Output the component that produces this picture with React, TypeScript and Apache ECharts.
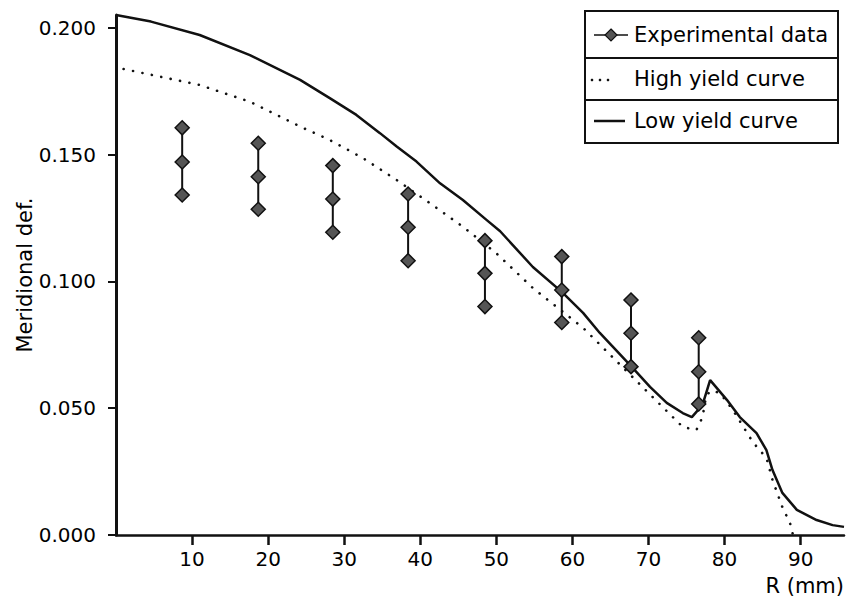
import React, { useEffect, useRef } from "react";
import * as echarts from "echarts";

const xTicks = [10, 20, 30, 40, 50, 60, 70, 80, 90];
const yTicks = [0, 0.05, 0.1, 0.15, 0.2];

const expX = [8.7, 18.7, 28.5, 38.4, 48.5, 58.6, 67.7, 76.6];
const expTop = [0.1606, 0.1545, 0.1457, 0.1345, 0.1161, 0.1098, 0.0927, 0.0778];
const expMid = [0.1471, 0.1413, 0.1325, 0.1214, 0.1032, 0.0966, 0.0796, 0.0644];
const expBot = [0.1341, 0.1285, 0.1194, 0.1082, 0.0901, 0.0838, 0.0664, 0.0517];

const highX = [1.0, 11.0, 17.6, 24.2, 28.1, 32.5, 36.9, 41.3, 45.6, 50.0, 54.8, 61.4, 67.9, 74.5, 76.3, 77.1, 77.6, 78.3, 79.4, 81.1, 83.7, 85.5, 86.3, 87.6, 88.6, 89.0];
const highY = [0.1838, 0.1775, 0.1709, 0.1611, 0.1558, 0.1486, 0.14, 0.1308, 0.1216, 0.1111, 0.0974, 0.0817, 0.0623, 0.0426, 0.0414, 0.0465, 0.0552, 0.057, 0.056, 0.0493, 0.0367, 0.0304, 0.0217, 0.011, 0.0047, 0.0];

const lowX = [0, 4.6, 11.0, 17.6, 24.2, 28.1, 31.6, 34.7, 36.9, 39.5, 42.6, 45.6, 48.7, 50.5, 54.8, 58.6, 61.4, 63.6, 67.8, 70.2, 72.4, 74.5, 75.7, 77.1, 78.1, 80.3, 82.0, 84.2, 85.5, 86.3, 87.6, 89.5, 92.1, 94.2, 95.7];
const lowY = [0.2051, 0.2025, 0.1972, 0.1893, 0.1795, 0.1723, 0.1657, 0.1585, 0.1532, 0.1473, 0.1387, 0.1321, 0.1243, 0.1198, 0.1057, 0.0959, 0.0876, 0.0797, 0.0663, 0.0584, 0.0521, 0.0481, 0.0465, 0.0513, 0.0611, 0.0533, 0.0465, 0.0402, 0.0335, 0.0256, 0.0166, 0.0099, 0.0059, 0.0039, 0.0032];

const legendLabels = ["Experimental data", "High yield curve", "Low yield curve"];
const xName = "R (mm)";
const yName = "Meridional def.";

const FONT = "DejaVu Sans";

export default function App() {
  const ref = useRef<HTMLDivElement>(null);

  useEffect(() => {
    document.body.style.margin = "0";
    const chart = echarts.init(ref.current!, null, { renderer: "svg" });

    const expData: any[] = [];
    expX.forEach((x, i) => {
      expData.push([x, expTop[i]], [x, expMid[i]], [x, expBot[i]], [x, "-"]);
    });

    const option: any = {
      animation: false,
      backgroundColor: "#fff",
      grid: { left: 116, right: 2, top: 15, bottom: 70, containLabel: false },
      xAxis: {
        type: "value",
        min: 0,
        max: 95.7,
        splitLine: { show: false },
        axisLine: { show: true, onZero: false, lineStyle: { color: "#111", width: 2.5 } },
        axisTick: { show: true, inside: false, length: 10, lineStyle: { color: "#111", width: 2.5 }, customValues: xTicks },
        axisLabel: {
          customValues: xTicks,
          margin: 14,
          color: "#000",
          fontFamily: FONT,
          fontSize: 20,
        },
      },
      yAxis: {
        type: "value",
        min: 0,
        max: 0.2051,
        name: yName,
        nameLocation: "middle",
        nameRotate: 90,
        nameGap: 81,
        nameMoveOverlap: false,
        nameTextStyle: { color: "#000", fontFamily: FONT, fontSize: 21 },
        splitLine: { show: false },
        axisLine: { show: true, lineStyle: { color: "#111", width: 3 } },
        axisTick: { show: true, inside: false, length: 8, lineStyle: { color: "#111", width: 2 }, customValues: yTicks },
        axisLabel: {
          customValues: yTicks,
          margin: 20,
          color: "#000",
          fontFamily: FONT,
          fontSize: 20,
          formatter: (v: number) => v.toFixed(3),
        },
      },
      series: [
        {
          name: legendLabels[1],
          type: "line",
          data: highX.map((x, i) => [x, highY[i]]),
          showSymbol: false,
          symbol: "none",
          lineStyle: { color: "#111", width: 2.6, type: [0.1, 9.5], cap: "round" },
          z: 2,
        },
        {
          name: legendLabels[2],
          type: "line",
          data: lowX.map((x, i) => [x, lowY[i]]),
          showSymbol: false,
          symbol: "none",
          lineStyle: { color: "#111", width: 2.5 },
          z: 3,
        },
        {
          name: legendLabels[0],
          type: "line",
          data: expData,
          connectNulls: false,
          symbol: "diamond",
          symbolSize: [14, 14],
          showSymbol: true,
          itemStyle: { color: "#555", borderColor: "#111", borderWidth: 1.5 },
          lineStyle: { color: "#111", width: 2 },
          z: 4,
        },
      ],
      graphic: [
        {
          type: "text",
          right: 2,
          top: 575,
          style: { text: xName, font: `21px "${FONT}"`, fill: "#000" },
        },
        {
          type: "group",
          children: [
            { type: "rect", shape: { x: 585, y: 11, width: 253, height: 132 }, style: { fill: "#fff", stroke: "#111", lineWidth: 2 } },
            { type: "line", shape: { x1: 585, y1: 58, x2: 838, y2: 58 }, style: { stroke: "#111", lineWidth: 2 } },
            { type: "line", shape: { x1: 585, y1: 100, x2: 838, y2: 100 }, style: { stroke: "#111", lineWidth: 2 } },
            { type: "line", shape: { x1: 594, y1: 35, x2: 628, y2: 35 }, style: { stroke: "#111", lineWidth: 1.5 } },
            { type: "polygon", shape: { points: [[611, 29], [617, 35], [611, 41], [605, 35]] }, style: { fill: "#555", stroke: "#111", lineWidth: 1.2 } },
            { type: "circle", shape: { cx: 592, cy: 80, r: 1.3 }, style: { fill: "#111" } },
            { type: "circle", shape: { cx: 600, cy: 80, r: 1.3 }, style: { fill: "#111" } },
            { type: "circle", shape: { cx: 608, cy: 80, r: 1.3 }, style: { fill: "#111" } },
            { type: "line", shape: { x1: 594, y1: 121, x2: 625, y2: 121 }, style: { stroke: "#111", lineWidth: 2.5 } },
            { type: "text", x: 634, y: 35, style: { text: legendLabels[0], font: `21px "${FONT}"`, fill: "#000", textVerticalAlign: "middle", verticalAlign: "middle" } },
            { type: "text", x: 634, y: 79, style: { text: legendLabels[1], font: `21px "${FONT}"`, fill: "#000", textVerticalAlign: "middle", verticalAlign: "middle" } },
            { type: "text", x: 634, y: 121, style: { text: legendLabels[2], font: `21px "${FONT}"`, fill: "#000", textVerticalAlign: "middle", verticalAlign: "middle" } },
          ],
        },
      ],
    };

    chart.setOption(option);
    return () => chart.dispose();
  }, []);

  return (
    <div
      ref={ref}
      style={{ position: "fixed", left: 0, top: 0, width: 846, height: 605, background: "#fff" }}
    />
  );
}
